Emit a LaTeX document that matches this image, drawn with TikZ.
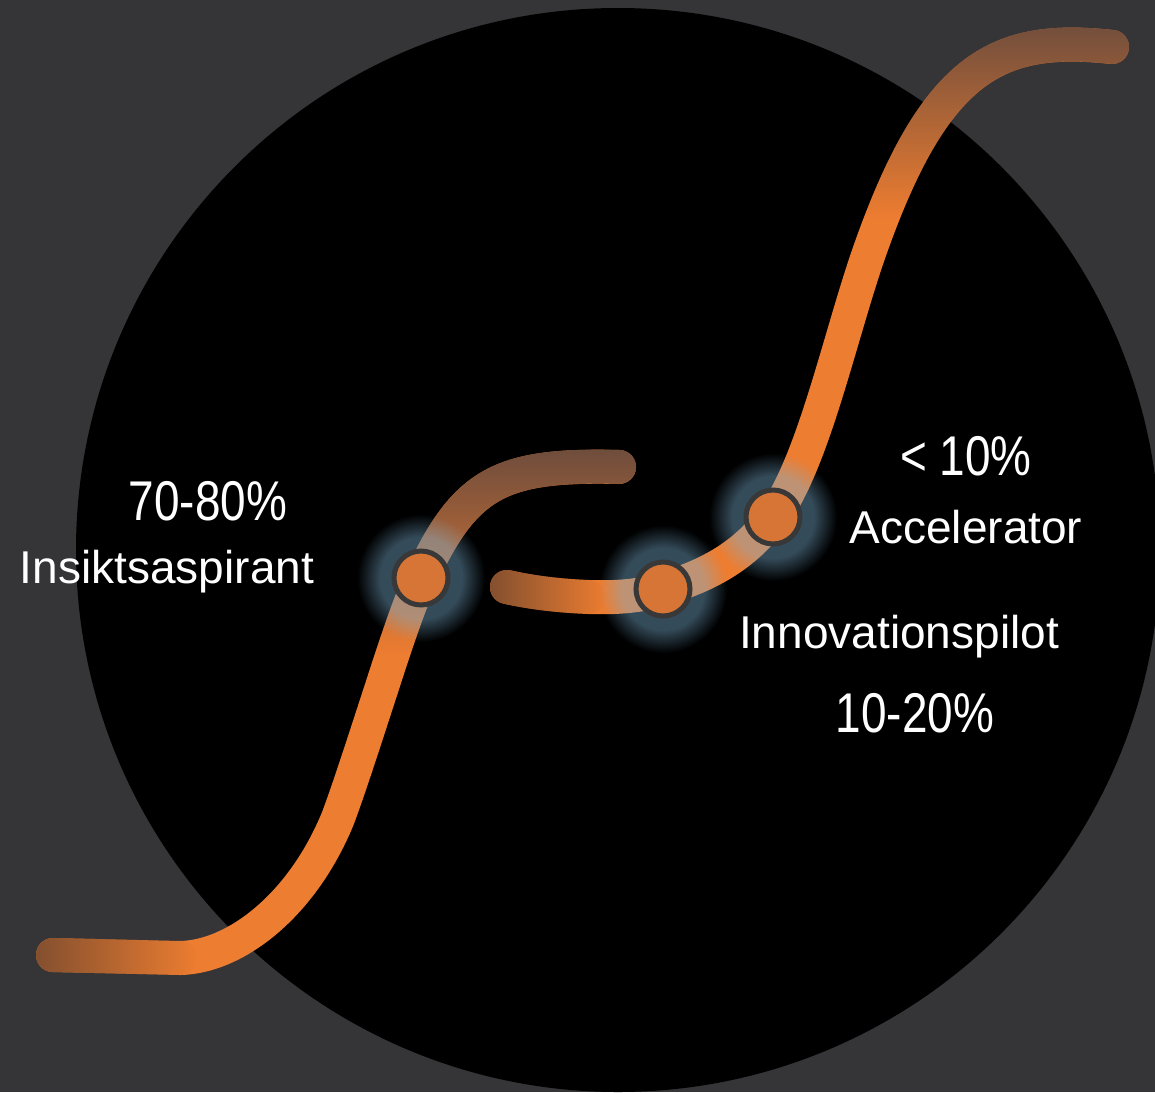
\documentclass[tikz,border=0pt]{standalone}
\usepackage{fontspec}
\setmainfont{Liberation Sans}
\newfontfamily\numfont[FakeStretch=0.82]{Liberation Sans}
\usetikzlibrary{fadings,calc,positioning}

\definecolor{bgcol}{HTML}{353537}
\definecolor{curveorange}{HTML}{ED7D31}
\definecolor{tailbrown}{HTML}{84502F}
\definecolor{tipbrown}{HTML}{6E4D3D}
\definecolor{dotorange}{HTML}{D67535}
\definecolor{dotrim}{HTML}{383838}
\definecolor{glowblue}{HTML}{7DB3D5}

% fadings: white = opaque, black = transparent
\pgfdeclarehorizontalshading{tailshade}{100bp}{color(0bp)=(white); color(25bp)=(white); color(75bp)=(black); color(100bp)=(black)}
\pgfdeclarefading{fade tail}{\pgfuseshading{tailshade}}
\pgfdeclareverticalshading{tipshade}{100bp}{color(0bp)=(black); color(35bp)=(black); color(75bp)=(white); color(100bp)=(white)}
\pgfdeclarefading{fade tip}{\pgfuseshading{tipshade}}
\pgfdeclareradialshading{glowshade}{\pgfpointorigin}{color(0bp)=(white); color(16bp)=(white); color(25bp)=(black); color(50bp)=(black)}
\pgfdeclarefading{fade glow}{\pgfuseshading{glowshade}}

\tikzset{
    curve/.style={
        line width=17pt,
        line cap=round,
    },
    tail/.style={
        curve,
        draw=tailbrown,
        path fading=fade tail,
    },
    tip/.style={
        curve,
        draw=tipbrown,
        path fading=fade tip,
    },
    glow/.style={
        fill=glowblue,
        opacity=0.42,
        path fading=fade glow,
    },
    dot/.style={
        circle,
        draw=dotrim,
        line width=2.5pt,
        fill=dotorange,
        minimum size=27pt,
        inner sep=0pt,
    },
    word/.style={
        text=white,
        font=\fontsize{23}{28}\selectfont,
        anchor=base,
    },
    pct/.style={
        text=white,
        font=\numfont\fontsize{28}{34}\selectfont,
        anchor=base,
    },
}

\begin{document}
\begin{tikzpicture}[x=0.5pt,y=-0.5pt]
    \useasboundingbox (0,0) rectangle (1155,1092);
    \fill[bgcol] (0,0) rectangle (1155,1092);
    \fill[black] (618,550) circle (542);
    % points on the curves
    \coordinate (a0) at (53,955);
    \coordinate (a1) at (180,958);
    \coordinate (a2) at (338,818);
    \coordinate (m1) at (381.4,688.6);
    \coordinate (g1) at (421,578);
    \coordinate (e1) at (619,467);
    \coordinate (b0) at (507,587);
    \coordinate (n1) at (589,597);
    \coordinate (g2) at (663,589);
    \coordinate (g3) at (773,517);
    \coordinate (m2) at (870,250);
    \coordinate (e2) at (1112,47);
    % curves
    \draw[curve,curveorange] (a0) -- (a1) .. controls (235,957) and (302,906) .. (a2)
        .. controls (351,783) and (366.5,734) .. (m1) .. controls (396,643) and (410.5,600.5) .. (g1)
        .. controls (465,483) and (500,464) .. (e1);
    \draw[curve,curveorange] (b0) .. controls (534,593) and (562,596) .. (n1)
        .. controls (616,598) and (642,596) .. (g2) .. controls (706,576) and (744,557) .. (g3)
        .. controls (814,461) and (840,335) .. (m2) .. controls (936,63) and (1000,35) .. (e2);
    \draw[tail] (a0) -- (a1);
    \draw[tip] (m1) .. controls (396,643) and (410.5,600.5) .. (g1) .. controls (465,483) and (500,464) .. (e1);
    \draw[tail] (b0) .. controls (534,593) and (562,596) .. (n1);
    \draw[tip] (m2) .. controls (936,63) and (1000,35) .. (e2);
    % stages
    \fill[glow] (g1) circle (64);
    \fill[glow] (g2) circle (64);
    \fill[glow] (g3) circle (64);
    \node[dot] (d1) at (g1) {};
    \node[dot] (d2) at (g2) {};
    \node[dot] (d3) at (g3) {};
    % labels
    \node[pct] (p1) at (208,520) {70-80\%};
    \node[word] (l1) at ([xshift=-20.5pt,yshift=-31.5pt]p1.base) {Insiktsaspirant};
    \node[pct] (p3) at (966,475) {< 10\%};
    \node[word] (l3) at ([yshift=-34pt]p3.base) {Accelerator};
    \node[word] (l2) at (899,648) {Innovationspilot};
    \node[pct] (p2) at ([xshift=8pt,yshift=-42pt]l2.base) {10-20\%};
\end{tikzpicture}
\end{document}
